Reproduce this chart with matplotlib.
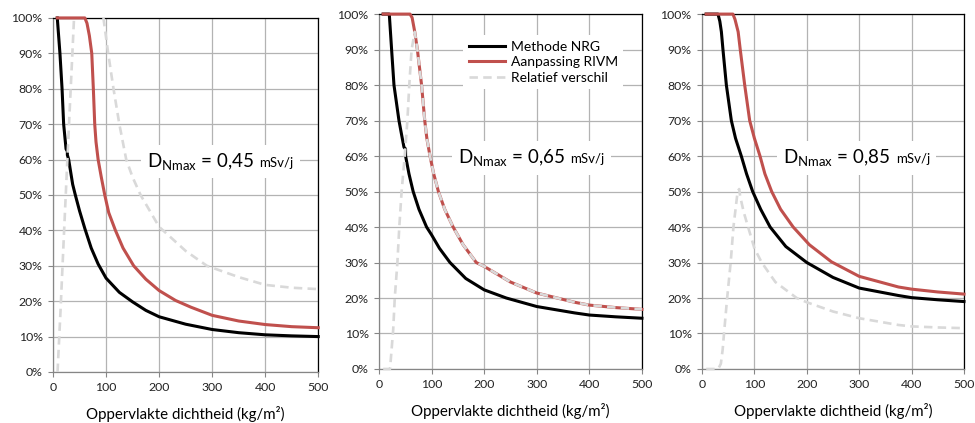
import numpy as np
import matplotlib
matplotlib.use("Agg")
import matplotlib.pyplot as plt
from matplotlib.offsetbox import TextArea, HPacker, AnnotationBbox

plt.rcParams['font.family'] = ['Lato', 'DejaVu Sans']

nan = np.nan

# D_Nmax = 0,45 mSv/j
nrg_x_45 = [8, 13, 17, 20, 24.5, 27, 27, 29.5, 32.7, 37, 42, 50, 60, 72, 85, 100, 125, 150, 175, 200, 250, 300, 350, 400, 450, 500]
nrg_y_45 = [100, 90, 80, 70, 63, 62.3, 61.3, 60, 57, 53, 50, 45.5, 40.5, 35, 30.5, 26.5, 22.5, 19.8, 17.4, 15.6, 13.5, 12, 11.1, 10.5, 10.2, 10]
rivm_x_45 = [8, 60, 64, 68.5, 73, 76, 78.6, 81, 85, 91, 97.5, 105, 117.6, 132, 152, 175, 200, 231, 260, 300, 350, 400, 450, 500]
rivm_y_45 = [100, 100, 98.5, 95, 90, 80, 70, 65, 60, 55, 50, 45, 40, 35, 30, 26.2, 23, 20.2, 18.3, 16, 14.4, 13.4, 12.8, 12.5]
rel_x_45 = [8.5, 14, 20, 27, 33.3, 39.6, nan, 95, 104, 114, 125, 138, 150, 165, 200, 250, 290, 350, 400, 450, 500]
rel_y_45 = [0, 17, 37, 60, 80, 100, nan, 100, 90, 80, 70, 60, 55, 50, 41, 34.2, 30, 26.8, 24.6, 23.8, 23.4]

# D_Nmax = 0,65 mSv/j
nrg_x_65 = [8, 19.6, 24, 28.5, 38, 43, 47.5, 50.5, 50.6, 57, 65, 76, 90.5, 100, 115, 135, 165, 200, 242, 300, 372, 400, 450, 500]
nrg_y_65 = [100, 100, 90, 80, 70, 66, 62.5, 62, 60, 55, 50, 45, 40, 37.8, 34, 30, 25.5, 22.3, 20, 17.6, 15.8, 15.2, 14.7, 14.3]
rivm_x_65 = [8, 59, 63, 68, 73, 81, 87, 91, 97, 104, 113, 125, 141, 160, 185, 200, 250, 300, 372, 400, 450, 500]
rivm_y_65 = [100, 100, 99, 95, 90, 80, 70, 65, 60, 55, 50, 45, 40, 35, 30, 28.9, 24.5, 21.4, 18.8, 18, 17.3, 16.8]
rel_x_65 = [8, 21, 27, 30, 35, 38.6, 43, 49, 54, 57.6, 62, 65, 68, 73, 81, 87, 91, 97, 104, 113, 125, 141, 160, 185, 200, 250, 300, 372, 400, 450, 500]
rel_y_65 = [0, 0, 11, 20, 30, 40, 50, 60, 70, 80, 90, 92.5, 95, 90, 80, 70, 65, 60, 55, 50, 45, 40, 35, 30, 28.9, 24.5, 21.4, 18.8, 18, 17.3, 16.8]

# D_Nmax = 0,85 mSv/j
nrg_x_85 = [8, 30.5, 34, 37, 40, 46.5, 56, 64, 75, 85, 96.7, 112, 130, 160, 200, 250, 300, 375, 400, 450, 500]
nrg_y_85 = [100, 100, 98, 95, 90, 80, 70, 65, 60, 55, 50, 45, 40, 34.5, 30, 25.8, 22.8, 20.7, 20.1, 19.5, 19]
rivm_x_85 = [8, 59, 63, 69, 73, 81.5, 91, 100, 110.7, 120, 133, 150, 174, 205, 247, 300, 375, 400, 450, 500]
rivm_y_85 = [100, 100, 98.5, 95, 90, 80, 70, 65, 60, 55, 50, 45, 40, 35, 30.2, 26.1, 23.1, 22.5, 21.7, 21.1]
rel_x_85 = [8, 31, 36, 39.4, 42, 48, 54.7, 60, 68, 71, 73, 80, 88, 100, 114, 140, 180.7, 200, 250, 300, 375, 400, 450, 500]
rel_y_85 = [0, 0, 1.5, 5.4, 10, 20, 30, 40, 50, 50.7, 48.5, 44, 40, 34, 30, 24.5, 20, 18.8, 16.2, 14.3, 12.4, 12, 11.7, 11.5]

doses = ['0,45', '0,65', '0,85']
series_names = ['Methode NRG', 'Aanpassing RIVM', 'Relatief verschil']
x_ticks = [0, 100, 200, 300, 400, 500]
y_ticks = list(range(0, 101, 10))

panels = [
    (nrg_x_45, nrg_y_45, rivm_x_45, rivm_y_45, rel_x_45, rel_y_45),
    (nrg_x_65, nrg_y_65, rivm_x_65, rivm_y_65, rel_x_65, rel_y_65),
    (nrg_x_85, nrg_y_85, rivm_x_85, rivm_y_85, rel_x_85, rel_y_85),
]

# axes rectangles in figure fraction
rects = [
    [0.0544, 0.1206, 0.272, 0.837],
    [0.3887, 0.1277, 0.2697, 0.839],
    [0.7200, 0.1277, 0.2687, 0.839],
]
label_x = [177, 150, 155]

RED = '#C0504D'
GREY = '#D9D9D9'
GRID = '#B3B3B3'
AXIS = '#868686'

fig = plt.figure(figsize=(9.75, 4.23), dpi=100)

for i, (data, rect) in enumerate(zip(panels, rects)):
    nx, ny, rx, ry, gx, gy = data
    ax = fig.add_axes(rect)
    ax.plot(nx, ny, color='black', lw=2.2, clip_on=False, zorder=4, label=series_names[0])
    ax.plot(rx, ry, color=RED, lw=2.2, clip_on=False, zorder=5, label=series_names[1])
    ax.plot(gx, gy, color=GREY, lw=1.9, ls=(0, (3.2, 2.0)), clip_on=False, zorder=6, label=series_names[2])

    ax.set_xlim(0, 500)
    ax.set_ylim(0, 100)
    ax.set_xticks(x_ticks)
    ax.set_yticks(y_ticks)
    ax.set_yticklabels([f'{v}%' for v in y_ticks])
    ax.grid(True, color=GRID, lw=0.9)
    ax.set_axisbelow(True)
    ax.tick_params(direction='out', length=3.5, width=0.8, color=AXIS,
                   labelsize=8.8, labelcolor='#222222', pad=4)
    for side in ['left', 'bottom']:
        ax.spines[side].set_color(AXIS)
        ax.spines[side].set_linewidth(0.9)
    for side in ['top', 'right']:
        ax.spines[side].set_color('black')
        ax.spines[side].set_linewidth(0.9)
    ax.set_xlabel('Oppervlakte dichtheid (kg/m²)', fontsize=10.8, labelpad=9)

    big = TextArea(r'$\mathregular{D_{Nmax}}$ = ' + doses[i], textprops=dict(size=13.5, color='black'))
    small = TextArea('mSv/j', textprops=dict(size=9.5, color='black'))
    pack = HPacker(children=[big, small], align='baseline', pad=0, sep=4)
    ab = AnnotationBbox(pack, (label_x[i], 59.5), box_alignment=(0, 0.5), frameon=True,
                        pad=0.45, bboxprops=dict(facecolor='white', edgecolor='none'))
    ab.set_zorder(3)
    ax.add_artist(ab)

    if i == 1:
        leg = ax.legend(loc='upper left', bbox_to_anchor=(0.295, 0.96), fontsize=10,
                        frameon=True, framealpha=1, facecolor='white', edgecolor='none',
                        fancybox=False, handlelength=2.6, handletextpad=0.4,
                        labelspacing=0.25, borderpad=0.4)
        leg.set_zorder(7)

fig.savefig('out.png', dpi=100)
